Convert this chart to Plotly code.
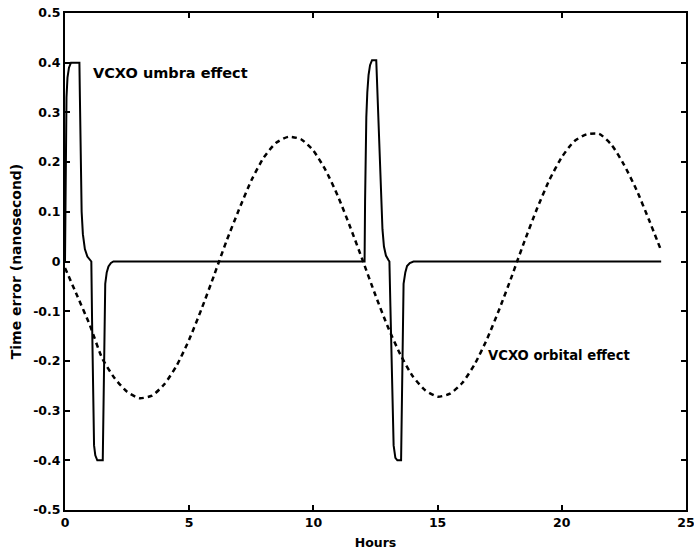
import plotly.graph_objects as go

# VCXO orbital effect (dashed)
orbital_hours = [0.0, 0.5, 1.0, 1.5, 2.0, 2.5, 3.0, 3.5, 4.0, 4.5, 5.0, 5.5, 6.0, 6.2,
                 6.5, 7.0, 7.5, 8.0, 8.5, 9.0, 9.5, 10.0, 10.5, 11.0, 11.5, 12.0,
                 12.5, 13.0, 13.5, 14.0, 14.5, 15.0, 15.5, 16.0, 16.5, 17.0, 17.5, 18.0, 18.2,
                 18.5, 19.0, 19.5, 20.0, 20.5, 21.0, 21.5, 22.0, 22.5, 23.0, 23.5, 24.0]
orbital_error = [-0.013, -0.07, -0.128, -0.195, -0.235, -0.262, -0.275, -0.27, -0.247, -0.209, -0.157, -0.095, -0.028, 0.0,
                 0.041, 0.104, 0.163, 0.209, 0.239, 0.251, 0.246, 0.223, 0.183, 0.130, 0.067, 0.0,
                 -0.068, -0.132, -0.187, -0.231, -0.259, -0.272, -0.266, -0.244, -0.206, -0.155, -0.094, -0.028, 0.0,
                 0.041, 0.106, 0.164, 0.210, 0.242, 0.256, 0.257, 0.235, 0.195, 0.145, 0.085, 0.022]

# VCXO umbra effect (solid)
umbra_hours = [0.0, 0.03, 0.06, 0.1, 0.16, 0.24, 0.58, 0.6, 0.62, 0.64, 0.67, 0.72, 0.8, 0.9, 0.99, 1.06,
               1.09, 1.13, 1.17, 1.22, 1.3, 1.52, 1.55, 1.58, 1.62, 1.68, 1.75, 1.85, 1.95,
               12.02, 12.06, 12.08, 12.1, 12.13, 12.17, 12.22, 12.28, 12.36, 12.53, 12.58, 12.63, 12.68,
               12.73, 12.78, 12.84, 12.92, 13.02, 13.06,
               13.1, 13.14, 13.18, 13.23, 13.3, 13.38, 13.53, 13.56, 13.59, 13.63, 13.7, 13.77, 13.88, 14.03, 24.0]
umbra_error = [0.0, 0.25, 0.33, 0.37, 0.39, 0.40, 0.40, 0.33, 0.25, 0.17, 0.10, 0.055, 0.025, 0.01, 0.004, 0.0,
               -0.12, -0.30, -0.37, -0.39, -0.40, -0.40, -0.28, -0.12, -0.045, -0.022, -0.01, -0.003, 0.0,
               0.0, 0.0, 0.12, 0.22, 0.29, 0.34, 0.375, 0.395, 0.405, 0.405, 0.34, 0.26, 0.18,
               0.11, 0.065, 0.03, 0.012, 0.003, 0.0,
               -0.09, -0.2, -0.31, -0.37, -0.395, -0.40, -0.40, -0.28, -0.12, -0.045, -0.022, -0.009, -0.003, 0.0, 0.0]

x_ticks = [0, 5, 10, 15, 20, 25]
y_ticks = [0.5, 0.4, 0.3, 0.2, 0.1, 0.0, -0.1, -0.2, -0.3, -0.4, -0.5]
y_tick_text = ["0.5", "0.4", "0.3", "0.2", "0.1", "0", "-0.1", "-0.2", "-0.3", "-0.4", "-0.5"]

FONT = "DejaVu Sans"

fig = go.Figure()
fig.add_trace(go.Scatter(x=orbital_hours, y=orbital_error, mode="lines",
                         line=dict(color="black", width=2.5, dash="5px,4px", shape="spline", smoothing=0.6),
                         showlegend=False, hoverinfo="skip"))
fig.add_trace(go.Scatter(x=umbra_hours, y=umbra_error, mode="lines",
                         line=dict(color="black", width=2),
                         showlegend=False, hoverinfo="skip"))

fig.add_annotation(x=1.05, y=0.38, xref="x", yref="y", text="VCXO umbra effect", showarrow=False,
                   xanchor="left", yanchor="middle",
                   font=dict(family=FONT, size=14.5, color="black", weight="bold"))
fig.add_annotation(x=16.95, y=-0.19, xref="x", yref="y", text="VCXO orbital effect", showarrow=False,
                   xanchor="left", yanchor="middle",
                   font=dict(family=FONT, size=13.2, color="black", weight="bold"))

axis_common = dict(showline=True, linecolor="black", linewidth=2, mirror="ticks",
                   ticks="inside", ticklen=5, tickwidth=1.5, tickcolor="black",
                   showgrid=False, zeroline=False, automargin=False,
                   ticklabeloverflow="allow",
                   tickfont=dict(family=FONT, size=12.5, color="black", weight="bold"))

fig.update_xaxes(range=[0, 25], tickvals=x_ticks, ticktext=[str(v) for v in x_ticks],
                 title=dict(text="Hours", standoff=10,
                            font=dict(family=FONT, size=12.5, color="black", weight="bold")),
                 **axis_common)
fig.update_yaxes(range=[-0.5, 0.5], tickvals=y_ticks, ticktext=y_tick_text,
                 title=dict(text="Time error (nanosecond)", standoff=8,
                            font=dict(family=FONT, size=14, color="black", weight="bold")),
                 **axis_common)

fig.update_layout(width=694, height=550, margin=dict(l=65, r=8, t=13, b=40),
                  paper_bgcolor="white", plot_bgcolor="white")

fig.write_html("out.html")
